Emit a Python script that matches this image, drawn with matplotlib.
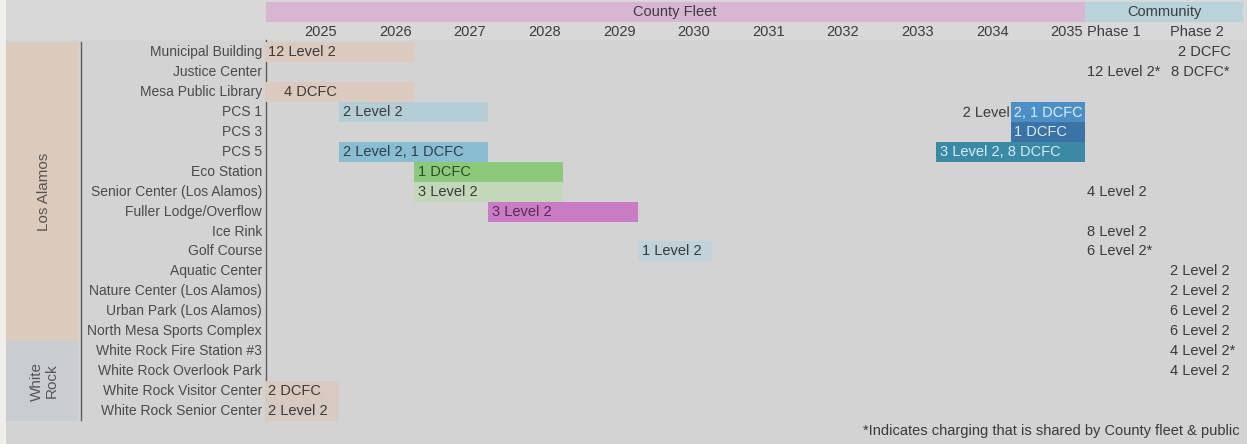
import matplotlib
matplotlib.use("Agg")
import matplotlib.pyplot as plt
from matplotlib.patches import Rectangle, PathPatch
from matplotlib.textpath import TextPath
from matplotlib.font_manager import FontProperties
import matplotlib.transforms as mtransforms
from matplotlib import font_manager

# ---------------- data ----------------
sites = ["Municipal Building", "Justice Center", "Mesa Public Library", "PCS 1", "PCS 3",
         "PCS 5", "Eco Station", "Senior Center (Los Alamos)", "Fuller Lodge/Overflow",
         "Ice Rink", "Golf Course", "Aquatic Center", "Nature Center (Los Alamos)",
         "Urban Park (Los Alamos)", "North Mesa Sports Complex", "White Rock Fire Station #3",
         "White Rock Overlook Park", "White Rock Visitor Center", "White Rock Senior Center"]
group_names = ["Los Alamos", "White\nRock"]
group_first = [0, 15]
group_last = [14, 18]

years = list(range(2025, 2036))
phase_names = ["Phase 1", "Phase 2"]

bar_rows = [0, 2, 3, 5, 6, 7, 8, 10, 3, 4, 5, 17, 18]
bar_start = [2025, 2025, 2026, 2026, 2027, 2027, 2028, 2030, 2035, 2035, 2034, 2025, 2025]
bar_end = [2026, 2026, 2027, 2027, 2028, 2028, 2029, 2030, 2035, 2035, 2035, 2025, 2025]
bar_labels = ["12 Level 2", "4 DCFC", "2 Level 2", "2 Level 2, 1 DCFC", "1 DCFC", "3 Level 2",
              "3 Level 2", "1 Level 2", "2 Level 2, 1 DCFC", "1 DCFC", "3 Level 2, 8 DCFC",
              "2 DCFC", "2 Level 2"]

phase1_rows = [1, 7, 9, 10]
phase1_labels = ["12 Level 2*", "4 Level 2", "8 Level 2", "6 Level 2*"]
phase2_rows = [0, 1, 11, 12, 13, 14, 15, 16]
phase2_labels = ["2 DCFC", "8 DCFC*", "2 Level 2", "2 Level 2", "6 Level 2", "6 Level 2",
                 "4 Level 2*", "4 Level 2"]

footnote = "*Indicates charging that is shared by County fleet & public"

# ---------------- style ----------------
bar_colors = ["#dccabe", "#dccabe", "#b5cdd7", "#88bdd2", "#8dc97b", "#c3d7bb", "#c97bc4",
              "#c0d2da", "#4b8fc6", "#3c73a6", "#3a8aa6", "#d9c9be", "#d6cac2"]
bar_text_colors = ["#3a3a3a", "#3a3a3a", "#3a3a3a", "#2f3f48", "#2f4a2a", "#3a3a3a", "#5a2a58",
                   "#3a3a3a", "#d8eaf3", "#d8eaf3", "#d8eaf3", "#3a3a3a", "#3a3a3a"]
bar_align = ["left", "right_first", "left", "left", "left", "left", "left", "left",
             "right_end", "left", "left", "left", "left"]
phase2_shift = [8, 1, 0, 0, 0, 0, 0, 0]   # px nudges within Phase 2 column

names = {f.name for f in font_manager.fontManager.ttflist}
main_font = "Liberation Sans" if "Liberation Sans" in names else "DejaVu Sans"
label_font = main_font

W, H = 1247, 444
DPI = 100
BG = "#d3d3d3"
COLW = 74.6      # px per year column
ROWH = 19.95     # px per row
PW = 79.0 / COLW  # phase column width in year units
X0 = 264.5
TOP = 42.0
FS = 10.5

fig = plt.figure(figsize=(W / DPI, H / DPI), dpi=DPI)
fig.patch.set_facecolor(BG)
fig.patches.append(Rectangle((0, 0), 6 / W, 1, transform=fig.transFigure,
                             facecolor="#f1efec", edgecolor="none", zorder=-5))
fig.patches.append(Rectangle((6 / W, 1 - 40 / H), 1, 40 / H, transform=fig.transFigure,
                             facecolor="#d8d8d8", edgecolor="none", zorder=-5))

xmax = len(years) + 2 * PW
ax = fig.add_axes([X0 / W, 1 - (TOP + 19 * ROWH) / H, xmax * COLW / W, 19 * ROWH / H])
ax.set_xlim(0, xmax)
ax.set_ylim(len(sites) - 0.5, -0.5)
ax.axis("off")


def px_x(p):
    return (p - X0) / COLW


def px_y(p):
    return (p - TOP) / ROWH - 0.5


# header bands
ax.add_patch(Rectangle((px_x(266), px_y(2)), len(years) - px_x(266), px_y(22) - px_y(2),
                       facecolor="#d8b5d2", edgecolor="none", clip_on=False))
ax.add_patch(Rectangle((len(years), px_y(2)), 2 * PW, px_y(22) - px_y(2),
                       facecolor="#b9d3db", edgecolor="none", clip_on=False))
ax.text(len(years) / 2, px_y(12.5), "County Fleet", ha="center", va="center",
        fontsize=FS, color="#3c3c3c", family=main_font, clip_on=False)
ax.text(len(years) + PW, px_y(12.5), "Community", ha="center", va="center",
        fontsize=FS, color="#3c3c3c", family=main_font, clip_on=False)

# column headers
for i, y in enumerate(years):
    ax.text(i + 1 - 2 / COLW, px_y(32), str(y), ha="right", va="center",
            fontsize=FS, color="#3c3c3c", family=main_font, clip_on=False)
phase_x = [len(years) + 1.5 / COLW, len(years) + PW + 6 / COLW]
for x, name in zip(phase_x, phase_names):
    ax.text(x, px_y(32), name, ha="left", va="center",
            fontsize=FS, color="#3c3c3c", family=main_font, clip_on=False)

# group bands and labels
group_colors = ["#dccabd", "#c9cdd1"]
for name, a, b, c in zip(group_names, group_first, group_last, group_colors):
    ax.add_patch(Rectangle((px_x(6), a - 0.5), px_x(78) - px_x(6), b - a + 1,
                           facecolor=c, edgecolor="none", clip_on=False))
    ax.text(px_x(44), (a + b) / 2, name, rotation=90, ha="center", va="center",
            fontsize=11, color="#555555", family=main_font, clip_on=False,
            multialignment="center", linespacing=1.1)

# separator lines
ax.plot([px_x(81), px_x(81)], [-0.5, px_y(420)], color="#5a5a5a", lw=1, clip_on=False)
ax.plot([px_x(265.5), px_x(265.5)], [px_y(40), px_y(420)], color="#5a5a5a", lw=1,
        clip_on=False)

# row labels
for i, s in enumerate(sites):
    ax.text(px_x(262), i, s, ha="right", va="center", fontsize=10,
            color="#4a4a4a", family=label_font, clip_on=False)

prop = FontProperties(family=main_font, size=FS)


def path_text(x, y, s, ha, color, clip_rect, z):
    """Text drawn as a path so that it can be clipped to an arbitrary rectangle."""
    tp = TextPath((0, 0), s, prop=prop)
    ext = tp.get_extents()
    cap = TextPath((0, 0), "L", prop=prop).get_extents()
    dx = -ext.x1 if ha == "right" else -ext.x0
    dy = -(cap.y0 + cap.y1) / 2
    tr = (mtransforms.Affine2D().translate(dx, dy).scale(DPI / 72)
          + mtransforms.ScaledTranslation(x, y, ax.transData))
    pp = PathPatch(tp, transform=tr, facecolor=color, edgecolor="none", lw=0, zorder=z)
    ax.add_patch(pp)
    pp.set_clip_path(clip_rect)


# bars
for r, s, e, lab, c, tc, al in zip(bar_rows, bar_start, bar_end, bar_labels,
                                   bar_colors, bar_text_colors, bar_align):
    left = s - years[0]
    width = e - s + 1
    ax.barh(r, width, left=left, height=1.0, color=c, edgecolor="none", zorder=2)
    if al == "left":
        x, ha = left + 4 / COLW, "left"
    elif al == "right_first":
        x, ha = left + 1 - 2 / COLW, "right"
    else:
        x, ha = left + width - 3 / COLW, "right"
    if al == "right_end":
        inside = Rectangle((left, r - 0.5), width, 1, transform=ax.transData)
        outside = Rectangle((0, r - 0.5), left, 1, transform=ax.transData)
        path_text(x, r, lab, ha, tc, inside, 4)
        path_text(x, r, lab, ha, "#3a3a3a", outside, 4)
    else:
        ax.text(x, r, lab, ha=ha, va="center", fontsize=FS, color=tc,
                family=main_font, zorder=4)

# community phases
for r, lab in zip(phase1_rows, phase1_labels):
    ax.text(phase_x[0] + 0.5 / COLW, r, lab, ha="left", va="center", fontsize=FS,
            color="#3a3a3a", family=main_font, clip_on=False)
for r, lab, sh in zip(phase2_rows, phase2_labels, phase2_shift):
    ax.text(phase_x[1] + sh / COLW, r, lab, ha="left", va="center", fontsize=FS,
            color="#3a3a3a", family=main_font, clip_on=False)

fig.text(1240 / W, 1 - 431 / H, footnote, ha="right", va="center", fontsize=FS,
         color="#3a3a3a", family=main_font)

fig.savefig("out.png", dpi=DPI, facecolor=fig.get_facecolor())
